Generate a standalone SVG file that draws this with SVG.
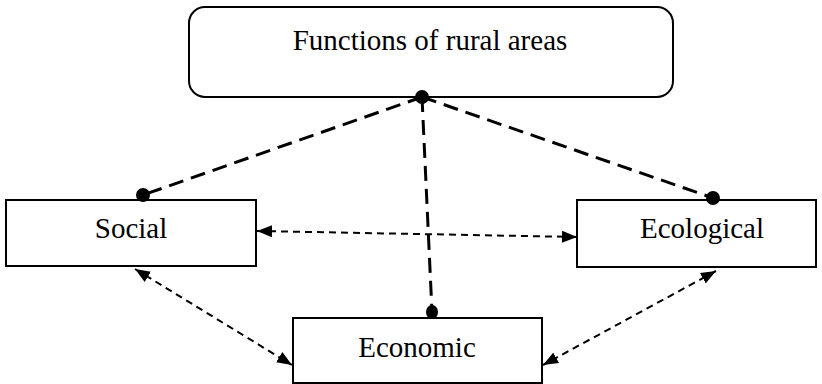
<svg xmlns="http://www.w3.org/2000/svg" width="822" height="384" viewBox="0 0 822 384">
<style>
.box{fill:#fff;stroke:#000;stroke-width:2}
.lbl{font-family:"Liberation Serif","Times New Roman",serif;font-size:29px;fill:#000;text-anchor:middle}
.long{stroke:#000;stroke-width:3;stroke-dasharray:15 8;fill:none}
.short{stroke:#000;stroke-width:2;stroke-dasharray:7 5;fill:none;marker-start:url(#ah);marker-end:url(#ah)}
.dot{fill:#000}
</style>
<defs>
<marker id="ah" viewBox="0 0 15 12" refX="15" refY="6" markerWidth="15" markerHeight="12" markerUnits="userSpaceOnUse" orient="auto-start-reverse">
<path d="M0,0 L15,6 L0,12 Z" fill="#000"/>
</marker>
</defs>
<rect width="822" height="384" fill="#fff"/>
<g id="connectors">
<line class="long" x1="422" y1="97" x2="143" y2="195"/>
<line class="long" x1="422" y1="97" x2="713" y2="198"/>
<line class="long" x1="422" y1="97" x2="432" y2="312"/>
<line class="short" x1="257" y1="231" x2="577" y2="237"/>
<line class="short" x1="135" y1="269" x2="292" y2="365"/>
<line class="short" x1="716" y1="271" x2="543" y2="365"/>
</g>
<g id="top">
<rect class="box" x="189" y="7" width="484" height="90" rx="16"/>
<text class="lbl" x="430" y="50">Functions of rural areas</text>
</g>
<g id="social">
<rect class="box" x="6" y="200" width="250" height="66"/>
<text class="lbl" x="131" y="238">Social</text>
</g>
<g id="ecological">
<rect class="box" x="577" y="200" width="239" height="67"/>
<text class="lbl" x="702" y="238">Ecological</text>
</g>
<g id="economic">
<rect class="box" x="293" y="318" width="249" height="65"/>
<text class="lbl" x="417" y="357">Economic</text>
</g>
<g id="dots">
<circle class="dot" cx="422" cy="97" r="7"/>
<circle class="dot" cx="143" cy="195" r="7"/>
<circle class="dot" cx="713" cy="198" r="7"/>
<ellipse class="dot" cx="432" cy="312" rx="6" ry="7"/>
</g>
</svg>
